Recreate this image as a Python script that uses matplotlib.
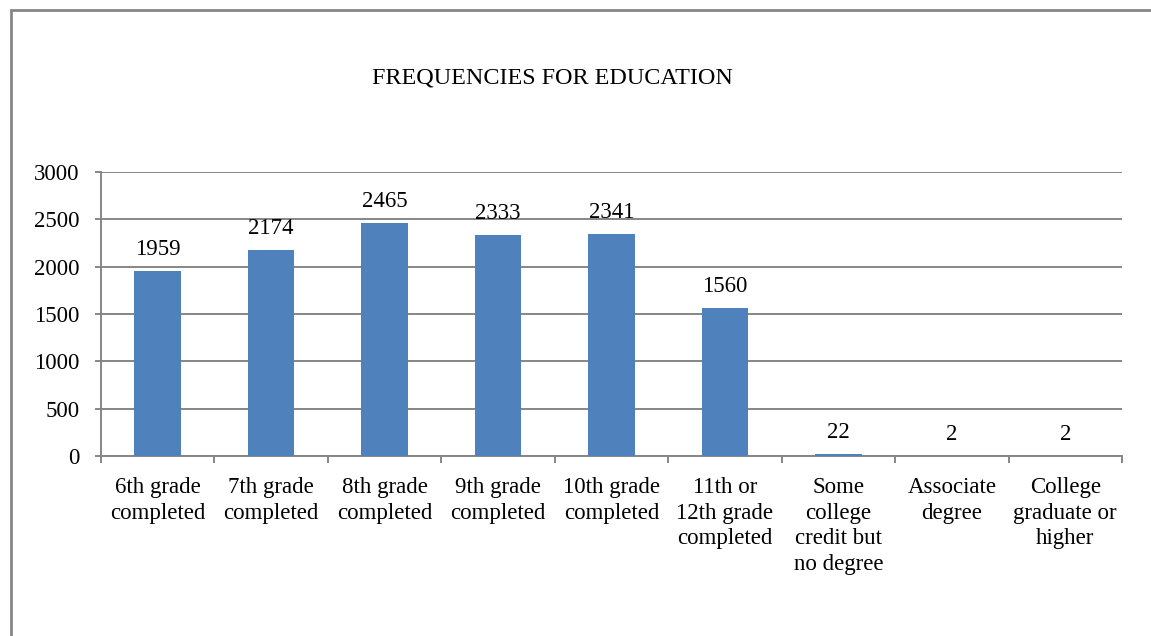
import numpy as np
import matplotlib
matplotlib.use("Agg")
import matplotlib.pyplot as plt
from matplotlib.patches import Rectangle

# Education frequencies
categories = ["6th grade\ncompleted", "7th grade\ncompleted", "8th grade\ncompleted",
              "9th grade\ncompleted", "10th grade\ncompleted",
              "11th or\n12th grade\ncompleted", "Some\ncollege\ncredit but\nno degree",
              "Associate\ndegree", "College\ngraduate or\nhigher"]
counts = [1959, 2174, 2465, 2333, 2341, 1560, 22, 2, 2]
yticks = [0, 500, 1000, 1500, 2000, 2500, 3000]

plt.rcParams["font.family"] = ["Liberation Serif", "DejaVu Serif"]
grey = "#868686"
blue = "#4F81BD"
fs = 16.5

fig = plt.figure(figsize=(11.51, 6.36), dpi=100)
ax = fig.add_axes([101/1151, 1 - 456/636, (1122 - 101)/1151, (456 - 172)/636])

x = np.arange(len(counts))
ax.bar(x, counts, width=0.41, color=blue, zorder=3)
for xi, c in zip(x, counts):
    ax.annotate(str(c), (xi, c), xytext=(0, 11.5), textcoords="offset points",
                ha="center", va="baseline", fontsize=fs)

ax.set_xlim(-0.5, len(counts) - 0.5)
ax.set_ylim(0, 3000)
ax.set_yticks(yticks)
ax.set_yticklabels([str(v) for v in yticks], fontsize=fs)
ax.yaxis.grid(True, color=grey, linewidth=1.4, zorder=0)

# category boundaries carry the tick marks, labels sit at the centres
ax.set_xticks(np.arange(len(counts) + 1) - 0.5)
ax.set_xticklabels([])
ax.set_xticks(x, minor=True)
ax.set_xticklabels(categories, minor=True, fontsize=fs, linespacing=1.3)
ax.tick_params(axis="x", which="major", length=5, width=1.4, color=grey)
ax.tick_params(axis="x", which="minor", length=0, pad=15)
ax.tick_params(axis="y", length=4.5, width=1.4, color=grey, pad=11)

for side in ["top", "right"]:
    ax.spines[side].set_visible(False)
for side in ["left", "bottom"]:
    ax.spines[side].set_color(grey)
    ax.spines[side].set_linewidth(1.4)

fig.text(552/1151, 1 - 78/636, "FREQUENCIES FOR EDUCATION", ha="center", va="center",
         fontsize=17.4)

# chart frame
fig.patches.append(Rectangle((11/1151, -0.1), 1.2, 1.1 - 10/636, transform=fig.transFigure,
                             fill=False, edgecolor=grey, linewidth=2))

fig.savefig("out.png", dpi=100)
